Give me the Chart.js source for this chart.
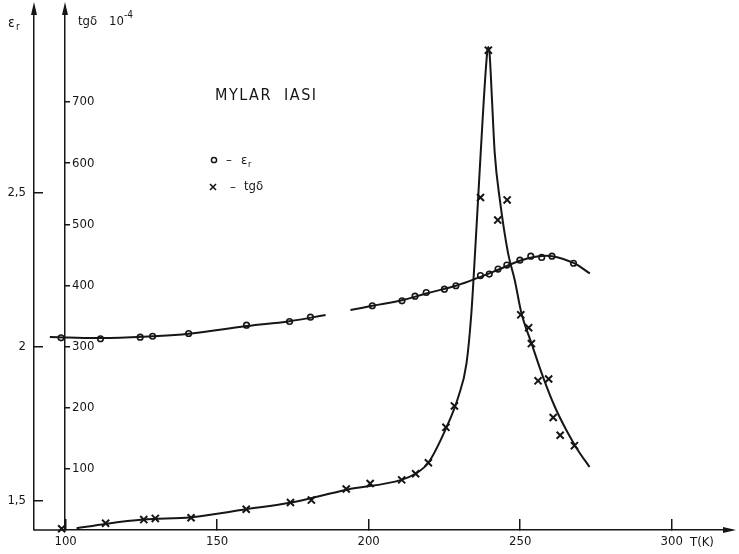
<!DOCTYPE html>
<html>
<head>
<meta charset="utf-8">
<script src="https://cdn.jsdelivr.net/npm/chart.js@4.4.0/dist/chart.umd.min.js"></script>
<style>
  html, body { margin: 0; padding: 0; background: #fff; }
  #mylar { display: block; }
</style>
</head>
<body>
<canvas id="mylar" width="739" height="554"></canvas>
<script>
const canvas = document.getElementById("mylar");
const FONT = '"Liberation Sans Narrow", "DejaVu Sans Condensed", "DejaVu Sans", sans-serif';
const INK = "#161616";

// tick labels
const xTicks = [100, 150, 200, 250, 300];
const epsTicks = [1.5, 2, 2.5];
const tgTicks = [100, 200, 300, 400, 500, 600, 700];

// measured points, eps_r (circles)
const epsT = [98.5, 111.5, 124.6, 128.7, 140.6, 159.7, 173.9, 180.8, 201.2, 211.0, 215.3, 219.0,
  225.0, 228.8, 236.9, 239.8, 242.7, 245.6, 249.9, 253.5, 257.1, 260.5, 267.6];
const epsV = [2.030, 2.027, 2.032, 2.035, 2.044, 2.071, 2.083, 2.097, 2.134, 2.150, 2.165, 2.177,
  2.188, 2.199, 2.232, 2.237, 2.253, 2.266, 2.282, 2.295, 2.291, 2.295, 2.272];

// hand drawn eps_r curve (null = break in the line)
const epsCurveT = [94.8, 111.5, 128.7, 140.6, 159.7, 173.9, 185.8, 190, 194, 201.2, 211, 219,
  228.8, 236.9, 242.7, 249.9, 255, 260.5, 267.6, 273];
const epsCurveV = [2.033, 2.029, 2.035, 2.043, 2.068, 2.084, 2.104, null, 2.120, 2.134, 2.152, 2.174,
  2.199, 2.228, 2.251, 2.280, 2.293, 2.295, 2.273, 2.239];

// measured points, tg delta x 10^-4 (crosses)
const tgT = [98.7, 113.2, 125.8, 129.6, 141.4, 159.6, 174.2, 181.1, 192.6, 200.5, 210.9, 215.5,
  219.7, 225.5, 228.3, 236.9, 239.5, 242.6, 245.7, 250.2, 252.8, 253.7, 255.9, 259.4, 260.9, 263.2, 267.9];
const tgV = [2, 11, 17, 19, 20, 34, 45, 49, 67, 76, 82, 92,
  110, 168, 203, 544, 785, 507, 540, 352, 331, 305, 244, 247, 184, 155, 138];

// hand drawn tg delta curve
const tgCurveT = [103.6, 113.2, 125.7, 141.5, 159.6, 174.4, 192.8, 210.8, 215.4, 219.7, 225.6, 229.6,
  232.3, 233.9, 235.1, 236.1, 237.6, 239.1, 239.5, 239.9, 240.7, 241.6, 243.3, 246.0, 248.2, 250.4,
  253.7, 257.5, 261.4, 265.7, 269.0, 272.9];
const tgCurveV = [3, 10, 17, 21, 34, 45, 66, 82, 92, 110, 167, 218,
  273, 355, 453, 540, 671, 780, 790, 780, 704, 617, 540, 453, 409, 355,
  306, 251, 202, 159, 131, 103];

const pts = (xs, ys) => xs.map((x, i) => ({ x: x, y: ys[i] }));

function arrowUp(ctx, x, yTip) {
  ctx.beginPath();
  ctx.moveTo(x, yTip);
  ctx.lineTo(x - 3, yTip + 13);
  ctx.lineTo(x + 3, yTip + 13);
  ctx.closePath();
  ctx.fill();
}

// fixed axis box, no extra room for the end labels
function fixWidth(w) {
  return s => { s.width = w; s.paddingTop = 0; s.paddingBottom = 0; };
}

// axis arrows, axis names, title and the little key
const decorations = {
  id: "decorations",
  afterDraw(chart) {
    const ctx = chart.ctx;
    const area = chart.chartArea;
    const epsX = chart.scales.yEps.right;
    ctx.save();
    ctx.fillStyle = INK;
    ctx.strokeStyle = INK;

    // bottom line runs on to the eps axis
    ctx.lineWidth = 1.5;
    ctx.beginPath();
    ctx.moveTo(epsX, area.bottom);
    ctx.lineTo(area.left, area.bottom);
    ctx.moveTo(epsX, 10);
    ctx.lineTo(epsX, area.top);
    ctx.moveTo(area.left, 10);
    ctx.lineTo(area.left, area.top);
    ctx.stroke();

    arrowUp(ctx, epsX, 2);
    arrowUp(ctx, area.left, 2);
    ctx.beginPath();
    ctx.moveTo(area.right + 4, area.bottom);
    ctx.lineTo(area.right - 9, area.bottom - 3);
    ctx.lineTo(area.right - 9, area.bottom + 3);
    ctx.closePath();
    ctx.fill();

    ctx.textBaseline = "alphabetic";
    ctx.textAlign = "left";
    ctx.font = "14px " + FONT;
    ctx.fillText("ε", 8, 27);
    ctx.font = "10px " + FONT;
    ctx.fillText("r", 16, 30);

    ctx.font = "13px " + FONT;
    ctx.fillText("tgδ", 78, 25);
    ctx.fillText("10", 109, 25);
    ctx.font = "10px " + FONT;
    ctx.fillText("-4", 124, 18);

    ctx.font = "13px " + FONT;
    ctx.fillText("T(K)", 690, 546);

    ctx.font = "16px " + FONT;
    ctx.letterSpacing = "1.5px";
    ctx.fillText("MYLAR  IASI", 215, 100);
    ctx.letterSpacing = "0px";

    // key
    ctx.lineWidth = 1.5;
    ctx.beginPath();
    ctx.arc(214, 160, 2.6, 0, Math.PI * 2);
    ctx.stroke();
    ctx.font = "13px " + FONT;
    ctx.fillText("–", 226, 164);
    ctx.fillText("ε", 241, 164);
    ctx.font = "9px " + FONT;
    ctx.fillText("r", 248, 167);

    ctx.lineWidth = 1.6;
    ctx.beginPath();
    ctx.moveTo(210, 184); ctx.lineTo(216, 190);
    ctx.moveTo(216, 184); ctx.lineTo(210, 190);
    ctx.stroke();
    ctx.font = "13px " + FONT;
    ctx.fillText("–", 230, 191);
    ctx.fillText("tgδ", 244, 190);
    ctx.restore();
  }
};

const tickFont = { family: FONT, size: 13 };

const chart = new Chart(canvas, {
  type: "scatter",
  data: {
    datasets: [{
      label: "tgδ curve",
      data: pts(tgCurveT, tgCurveV),
      yAxisID: "yTg",
      showLine: true,
      clip: false,
      pointRadius: 0,
      borderColor: INK,
      borderWidth: 2,
      cubicInterpolationMode: "monotone"
    },
    {
      label: "tgδ",
      data: pts(tgT, tgV),
      yAxisID: "yTg",
      clip: false,
      pointStyle: "crossRot",
      pointRadius: 5,
      borderColor: INK,
      borderWidth: 2
    },
    {
      label: "εr curve",
      data: pts(epsCurveT, epsCurveV),
      yAxisID: "yEps",
      showLine: true,
      spanGaps: false,
      clip: false,
      pointRadius: 0,
      borderColor: INK,
      borderWidth: 2,
      tension: 0.4
    },
    {
      label: "εr",
      data: pts(epsT, epsV),
      yAxisID: "yEps",
      clip: false,
      pointStyle: "circle",
      pointRadius: 2.8,
      backgroundColor: "#fff",
      borderColor: INK,
      borderWidth: 1.6
    }]
  },
  options: {
    responsive: false,
    animation: false,
    layout: { padding: { top: 7, right: 4 } },
    plugins: {
      legend: { display: false },
      tooltip: { enabled: false }
    },
    scales: {
      x: {
        type: "linear",
        position: "bottom",
        min: 99.8,
        max: 319.9,
        afterBuildTicks: s => { s.ticks = xTicks.map(v => ({ value: v })); },
        afterFit: s => { s.height = 24; s.paddingLeft = 0; s.paddingRight = 0; },
        grid: { drawOnChartArea: false, tickLength: -11, color: INK, lineWidth: 1.5 },
        border: { color: INK, width: 1.5 },
        ticks: { color: INK, font: tickFont, padding: 15, maxRotation: 0 }
      },
      yEps: {
        type: "linear",
        position: "left",
        weight: 10,
        min: 1.406,
        max: 3.104,
        afterBuildTicks: s => { s.ticks = epsTicks.map(v => ({ value: v })); },
        afterFit: fixWidth(34),
        grid: { drawOnChartArea: false, tickLength: -9, color: INK, lineWidth: 1.5 },
        border: { color: INK, width: 1.5 },
        ticks: {
          color: INK, font: tickFont, padding: 17,
          callback: v => String(v).replace(".", ",")
        }
      },
      yTg: {
        type: "linear",
        position: "left",
        weight: 0,
        min: 0,
        max: 855.6,
        afterBuildTicks: s => { s.ticks = tgTicks.map(v => ({ value: v })); },
        afterFit: fixWidth(31),
        grid: { drawOnChartArea: false, tickLength: -5, color: INK, lineWidth: 1.5 },
        border: { color: INK, width: 1.5 },
        ticks: { color: INK, font: tickFont, mirror: true, padding: 7 }
      }
    }
  },
  plugins: [decorations]
});
</script>
</body>
</html>
